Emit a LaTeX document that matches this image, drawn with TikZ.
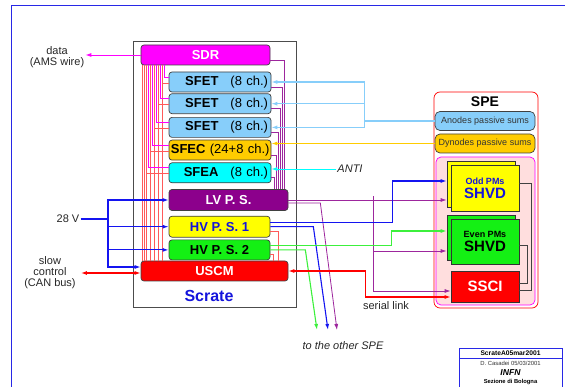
\documentclass[tikz,border=0pt]{standalone}
\usepackage{fontspec}
\setmainfont{Liberation Sans}
\usetikzlibrary{arrows.meta,positioning,calc,shadows}
\definecolor{sdrmag}{RGB}{255,0,255}
\definecolor{fetblue}{RGB}{135,206,250}
\definecolor{fecgold}{RGB}{255,204,0}
\definecolor{feacyan}{RGB}{0,255,255}
\definecolor{lvpurple}{RGB}{140,0,140}
\definecolor{hvyellow}{RGB}{255,255,0}
\definecolor{hvgreen}{RGB}{20,240,20}
\definecolor{uscmred}{RGB}{255,0,0}
\definecolor{spepink}{RGB}{255,222,222}
\definecolor{framec}{RGB}{40,40,230}
\definecolor{busred}{RGB}{255,90,90}
\definecolor{pwrblue}{RGB}{20,20,240}
\definecolor{txtblue}{RGB}{20,20,220}
\definecolor{wiregreen}{RGB}{60,240,60}
\newcommand{\fsz}[1]{\fontsize{#1}{#1}\selectfont}

\begin{document}
\begin{tikzpicture}[
  x=1pt, y=-1pt,
  >={Latex[length=6pt,width=4pt]},
  card/.style={draw=black!75, line width=0.7pt, rounded corners=3pt, minimum width=102pt, minimum height=20pt, inner sep=0pt, text width=96pt, align=right, font=\fsz{13}},
  unit/.style={draw=black!75, line width=0.7pt, rounded corners=3pt, minimum height=20pt, inner sep=0pt, font=\fsz{13}\bfseries},
  sums/.style={draw=black!75, line width=0.7pt, rounded corners=5pt, minimum width=100pt, minimum height=19pt, inner sep=0pt, font=\fsz{9}, text=black!80},
  shvd/.style={draw=black!80, line width=0.7pt, minimum width=68pt, inner sep=0pt, align=center},
  stack/.style={copy shadow={shadow xshift=-4pt, shadow yshift=4pt}},
  lbl/.style={inner sep=1pt, align=center, font=\fsz{11}, text=black!85},
  sdrwire/.style={draw=sdrmag, line width=0.6pt},
  bus/.style={draw=busred, line width=0.6pt},
  lvwire/.style={draw=lvpurple!85, line width=0.8pt},
  hvwire/.style={draw=pwrblue, line width=1.1pt},
  grwire/.style={draw=wiregreen, line width=1.1pt},
  fetwire/.style={draw=fetblue, line width=1.1pt},
  fecwire/.style={draw=fecgold, line width=1.1pt},
  feawire/.style={draw=feacyan, line width=0.9pt},
  canwire/.style={draw=uscmred, line width=1.4pt},
  ctlwire/.style={draw=black!75, line width=0.8pt}
]
\useasboundingbox (0,0) rectangle (565,387);
\draw[framec, line width=0.8pt] (11,5) rectangle (600,420);

% crate and its boards
\node[draw=black!70, line width=0.8pt, minimum width=163pt, minimum height=266pt, inner sep=0pt] (crate) at (214.5,174) {};
\node[font=\fsz{16}\bfseries, text=txtblue] (scrate) at (209,296) {Scrate};
\node[unit, fill=sdrmag, text=white, minimum width=129pt] (sdr) at (205.5,55) {SDR};
\node[card, fill=fetblue] (sfet1) at (220,82) {\textbf{SFET}\hspace{12pt}(8 ch.)};
\node[card, fill=fetblue, below=1pt of sfet1] (sfet2) {\textbf{SFET}\hspace{12pt}(8 ch.)};
\node[card, fill=fetblue, below=3pt of sfet2] (sfet3) {\textbf{SFET}\hspace{12pt}(8 ch.)};
\node[card, fill=fecgold, text width=99pt, below=2pt of sfet3] (sfec) {\textbf{SFEC} (24+8 ch.)};
\node[card, fill=feacyan, below=2pt of sfec] (sfea) {\textbf{SFEA}\hspace{12pt}(8 ch.)};
\node[unit, fill=lvpurple, text=white, minimum width=119pt, minimum height=21pt, below=6pt of sfea.south west, anchor=north west] (lvps) {LV P. S.};
\node[unit, fill=hvyellow, text=txtblue, minimum width=101pt, minimum height=21pt, below=5pt of lvps.south west, anchor=north west] (hvps1) {HV P. S. 1};
\node[unit, fill=hvgreen, minimum width=101pt, below=2pt of hvps1.south west, anchor=north west] (hvps2) {HV P. S. 2};
\node[unit, fill=uscmred, text=white, minimum width=147pt] (uscm) at (214.5,271) {USCM};

% backplane
\foreach \c [count=\k from 0] in {sfet1,sfet2,sfet3,sfec,sfea} {
  \draw[sdrwire] ($(sdr.south west)+(24-4*\k,0)$) |- ($(\c.west)+(0,-5)$);
  \draw[bus] ($(sdr.south west)+(22-4*\k,0)$) -- ($(uscm.north west)+(22-4*\k,0)$);
  \draw[bus] ($(\c.west)+(-6-4*\k,1)$) -- ($(\c.west)+(0,1)$);
}
\foreach \d in {2,4}
  \draw[bus] ($(sdr.south west)+(\d,0)$) -- ($(uscm.north west)+(\d,0)$);
\foreach \c/\d in {sdr/4, sfet1/6, sfet2/8, sfet3/10, sfec/12, sfea/14}
  \draw[lvwire] ($(\c.east)+(0,5)$) -| ($(lvps.north east)+(-\d,0)$);
\draw[bus] ($(hvps1.east)+(0,4.5)$) -| ($(uscm.north east)+(-10,0)$);
\draw[bus] ($(hvps2.east)+(0,4)$) -| ($(uscm.north east)+(-15,0)$);

% outside labels
\node[lbl] (data) at (57,57.5) {data\\(AMS wire)};
\node[lbl] (v28) at (68,219) {28 V};
\node[lbl, font=\fsz{11}] (can) at (50,273) {slow\\control\\(CAN bus)};
\node[lbl, font=\fsz{11}\itshape] (anti) at (350,169) {ANTI};
\node[lbl] (serial) at (386,306) {serial link};
\node[lbl, font=\fsz{11}\itshape] (other) at (343,346) {to the other SPE};
\coordinate (lvout) at (337,330);
\coordinate (hvout) at (328,330);
\coordinate (grout) at (317,330);

% SPE
\node[draw=uscmred, line width=0.7pt, rounded corners=6pt, minimum width=104pt, minimum height=216pt] (spe) at (486,200) {};
\node[font=\fsz{14}\bfseries] (spetitle) at (485,102) {SPE};
\node[sums, fill=fetblue] (anodes) at (485,121) {Anodes passive sums};
\node[sums, fill=fecgold] (dynodes) at (485,143.5) {Dynodes passive sums};
\node[draw=sdrmag, fill=spepink, line width=0.7pt, rounded corners=5pt, minimum width=99pt, minimum height=148pt] (hvbox) at (485.5,231) {};
\node[shvd, stack, fill=hvyellow, minimum height=46pt, text=txtblue] (odd) at (485,188) {\fsz{9}\textbf{Odd PMs}\\[2pt]{\fsz{15}\textbf{SHVD}}};
\node[shvd, stack, fill=hvgreen, minimum height=45pt] (even) at (485,241.5) {\fsz{9}\textbf{Even PMs}\\[2pt]{\fsz{15}\textbf{SHVD}}};
\node[shvd, fill=uscmred, text=white, minimum height=31pt, font=\fsz{15}\bfseries] (ssci) at (485,286.5) {SSCI};
\draw[ctlwire] ($(odd.east)+(0,-5)$) -- ++(12,0) |- ($(ssci.east)+(0,3.5)$);
\draw[ctlwire] ($(even.east)+(0,3.5)$) -- ++(8,0) |- ($(ssci.east)+(0,-3.5)$);

% signals
\draw[sdrwire, line width=0.9pt, ->] (sdr.west) -- (sdr.west -| data.east);
\draw[fetwire] (anodes.west) -- ++(-70,0) coordinate (anj);
\draw[fetwire] (anj |- sfet1.east) -- (anj |- sfet3.east);
\foreach \c in {sfet1,sfet2,sfet3}
  \draw[fetwire,->] (anj |- \c.east) -- (\c.east);
\draw[fecwire,->] (dynodes.west) -- (dynodes.west -| sfec.east);
\draw[feawire,->] (anti.west) -- (anti.west -| sfea.east);

% power
\coordinate (pwr) at (108,219);
\draw[hvwire] (v28.east) -- (pwr);
\draw[hvwire,->] (pwr) |- (lvps.west);
\draw[hvwire,->] (pwr) |- (hvps1.west);
\draw[hvwire,->] (pwr) |- (hvps2.west);
\draw[hvwire,->] (pwr) |- ($(uscm.west)+(0,-4)$);
\coordinate (lvj) at (373,196.5);
\draw[lvwire,->] (lvps.east) -- ($(lvps.east -| odd.west)+(-4,0)$);
\draw[lvwire,->] (lvj) |- ($(even.west)+(-4,9.5)$);
\draw[lvwire,->] (lvj) |- ($(ssci.west)+(0,4.5)$);
\draw[lvwire,->] ($(lvps.east)+(0,3)$) -- ++(32,0) -- (lvout);
\draw[hvwire,->] ($(hvps1.east)+(0,-4.5)$) -- ++(122,0) |- ($(odd.west)+(-4,-7)$);
\draw[hvwire,->] (hvps1.east) -- ++(43,0) -- (hvout);
\draw[grwire,->] ($(hvps2.east)+(0,-4)$) -- ++(121,0) |- ($(even.west)+(-4,-10.5)$);
\draw[grwire,->] (hvps2.east) -- ++(35,0) -- (grout);

% control
\draw[canwire,<->] ($(uscm.west)+(0,2)$) -- ($(uscm.west -| can.east)+(4,2)$);
\draw[canwire,<->] (uscm.east) -- ++(77,0) |- ($(ssci.west)+(0,10.5)$);

% title block
\node[draw=framec, line width=0.8pt, minimum width=103pt, minimum height=10pt, inner sep=0pt, font=\fsz{6.7}\bfseries] (tbname) at (510.5,353) {ScrateA05mar2001};
\node[draw=framec, line width=0.8pt, minimum width=103pt, minimum height=40pt, inner sep=0pt, anchor=north] (tbbody) at (tbname.south) {};
\node[font=\fsz{5.9}, text=black!80, inner sep=0pt] (tbauth) at (510.5,363) {D. Casadei 05/03/2001};
\node[font=\fsz{8.6}\bfseries\itshape, inner sep=0pt] (tbinfn) at (510.5,373) {INFN};
\node[font=\fsz{5.8}\bfseries, inner sep=0pt] (tbsez) at (510.5,382) {Sezione di Bologna};
\end{tikzpicture}
\end{document}
